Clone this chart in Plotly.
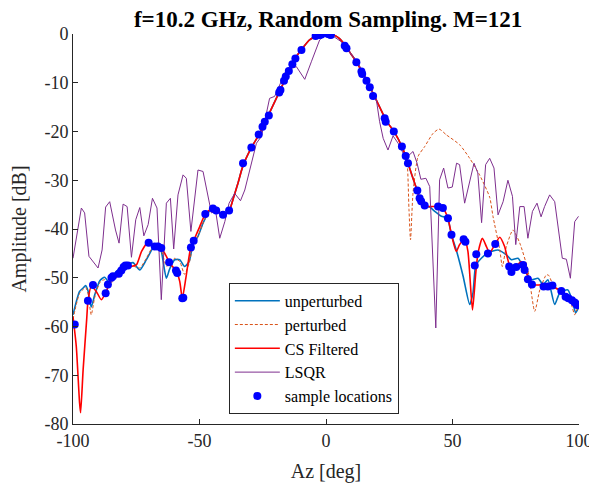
import plotly.graph_objects as go

# ---------------- data ----------------
# main-lobe shared by unperturbed / perturbed / CS
lobe_x = [-36.8, -34.8, -32.8, -29.5, -26.2, -22.9, -18.3, -15.9, -12.4, -9.7, -6.5, -3.2, 0.0,
          3.0, 5.0, 7.4, 10.0, 12.0, 14.6, 17.3, 19.2, 21.5, 23.9, 27.2, 30.0]
lobe_y = [-34.0, -30.6, -27.0, -23.3, -20.4, -16.8, -11.7, -9.0, -5.2, -3.2, -1.2, -0.3, 0.0,
          -0.2, -0.8, -2.2, -4.2, -5.7, -8.1, -10.8, -12.8, -15.3, -17.8, -20.3, -23.1]

unp_left_x = [-100, -98.7, -97.4, -96.0, -95.0, -94.1, -92.8, -91.4, -89.4, -87.5, -85.5, -84.2,
              -82.2, -80.2, -78.3, -76.3, -73.6, -71.0, -68.4, -66.4, -65.1, -63.1, -61.8, -59.8,
              -57.8, -55.9, -54.1, -52.6, -50.6, -48.6, -46.0, -44.0, -42.0, -40.7, -39.4, -38.1]
unp_left_y = [-57.6, -54.9, -52.8, -52.1, -51.6, -52.6, -56.0, -53.5, -50.6, -49.9, -51.1, -49.6,
              -48.4, -47.7, -47.3, -46.9, -48.4, -46.3, -43.9, -43.0, -44.5, -50.1, -48.2, -46.3,
              -46.3, -47.7, -46.7, -43.2, -41.5, -38.8, -36.3, -35.9, -36.7, -37.3, -36.7, -36.1]
unp_right_x = [32.4, 34.0, 35.7, 37.0, 39.0, 41.0, 43.0, 45.6, 47.5, 48.2, 49.6, 51.5, 54.2, 56.8,
               58.1, 59.2, 61.4, 64.0, 68.0, 71.3, 73.3, 75.9, 78.5, 81.2, 83.8, 85.8, 87.7,
               90.4, 92.4, 95.6, 97.6, 98.7, 100]
unp_right_y = [-26.5, -29.0, -31.6, -33.7, -35.3, -35.5, -36.4, -37.4, -37.6, -38.0, -41.2, -44.3,
               -49.7, -55.5, -53.1, -47.5, -46.0, -44.9, -44.3, -45.3, -46.3, -46.0, -48.4, -50.4,
               -50.1, -51.4, -50.4, -55.5, -53.1, -52.5, -55.2, -57.2, -55.9]

per_left_x = [-100, -98.7, -97.4, -96.0, -95.0, -94.1, -92.8, -91.4, -89.4, -87.5, -85.5, -84.2,
              -82.2, -80.2, -78.3, -76.3, -73.6, -71.0, -68.4, -66.4, -65.1, -63.1, -61.8, -59.8,
              -57.8, -55.9, -54.1, -52.6, -50.6, -48.6, -46.0, -44.0, -42.0, -40.7, -39.4, -38.1]
per_left_y = [-58.5, -55.5, -53.2, -52.4, -52.0, -53.2, -57.6, -54.0, -51.0, -50.4, -51.8, -50.4,
              -49.0, -48.0, -47.5, -47.6, -48.0, -46.0, -43.6, -43.3, -44.3, -47.6, -47.3, -46.0,
              -46.7, -49.3, -47.0, -43.5, -41.5, -38.8, -36.3, -35.9, -36.7, -37.3, -36.7, -36.1]
per_right_x = [31.8, 32.8, 33.4, 34.4, 36.4, 39.0, 42.3, 44.7, 47.6, 52.8, 56.8, 60.7, 64.7, 66.0,
               68.7, 69.7, 71.3, 73.9, 76.6, 79.8, 82.5, 84.5, 87.1, 88.0, 90.4, 94.3, 97.0, 98.3,
               99.6, 100]
per_right_y = [-25.1, -36.0, -42.2, -32.6, -25.1, -23.1, -20.4, -19.5, -20.7, -22.7, -25.5, -28.9,
               -33.5, -37.4, -44.3, -47.7, -43.6, -40.2, -42.9, -48.4, -56.9, -52.5, -49.4, -49.5,
               -52.1, -53.1, -55.5, -57.6, -55.9, -56.5]

cs_left_x = [-100, -98.7, -97.4, -97.0, -96.0, -94.6, -94.1, -92.8, -90.8, -88.8, -86.8, -84.8,
             -82.2, -79.6, -77.0, -74.9, -72.9, -70.4, -67.7, -65.1, -63.1, -61.8, -59.1, -57.8,
             -56.8, -55.4, -53.5, -51.9, -49.9, -47.9, -46.0, -44.0, -42.0, -40.7, -39.4, -38.1]
cs_left_y = [-58.0, -64.1, -75.7, -77.7, -68.9, -58.6, -54.9, -51.8, -52.8, -54.5, -52.8, -50.1,
             -49.7, -48.0, -47.7, -47.3, -44.6, -42.8, -43.6, -44.0, -45.6, -47.0, -48.7, -50.8,
             -54.2, -50.1, -43.9, -41.9, -39.5, -37.1, -36.1, -35.9, -36.7, -37.3, -36.7, -36.1]
cs_right_x = [32.4, 34.0, 35.7, 37.0, 39.0, 41.0, 44.3, 46.2, 48.2, 49.6, 51.5, 52.8, 54.8, 56.1,
              57.9, 59.2, 60.1, 61.8, 63.4, 64.7, 66.7, 68.7, 70.6, 72.6, 75.3, 77.2, 79.2, 81.8,
              87.1, 89.7, 93.0, 96.3, 99.6, 100]
cs_right_y = [-26.5, -29.0, -31.6, -33.7, -35.3, -35.4, -35.4, -35.7, -37.8, -41.2, -44.6, -43.2,
              -42.1, -44.6, -56.6, -49.0, -44.9, -41.9, -43.6, -44.9, -43.2, -41.7, -43.6, -47.3,
              -47.5, -46.7, -49.0, -51.4, -51.4, -51.8, -52.8, -54.2, -55.5, -55.7]

lsqr_x = [-100, -96.7, -95.4, -93.7, -90.1, -88.5, -87.1, -85.5, -83.2, -81.8, -80.2, -78.6, -76.9,
          -75.2, -73.6, -72.0, -70.3, -68.6, -66.8, -65.1, -63.1, -61.5, -60.2, -58.5, -56.5, -55.2,
          -53.4, -50.6, -48.6, -46.6, -45.3, -43.6, -42.0, -40.0, -38.3, -36.1, -33.8, -32.1, -30.2,
          -27.5, -25.5, -23.6, -22.3, -20.3, -15.7, -11.7, -8.4, -5.8, -2.5, 0.0, 2.1, 6.1, 10.7,
          12.6, 16.5, 19.9, 21.2, 22.6, 24.5, 26.5, 28.5, 31.5, 34.4, 36.0, 37.5, 39.5, 41.0, 43.4,
          44.9, 46.5, 48.2, 49.9, 51.6, 52.8, 54.8, 56.8, 58.5, 60.0, 61.5, 63.1, 64.7, 66.4, 68.0,
          70.0, 71.9, 73.7, 75.0, 76.6, 78.3, 79.8, 81.6, 83.4, 85.0, 86.4, 88.4, 90.4, 93.4, 95.0,
          96.6, 98.3, 99.8]
lsqr_y = [-46.0, -35.7, -36.7, -45.6, -48.0, -44.3, -35.5, -34.4, -40.2, -42.9, -34.9, -35.4, -45.8,
          -38.1, -35.6, -41.4, -39.1, -33.7, -35.7, -54.5, -34.7, -33.7, -44.1, -33.0, -28.9, -29.6,
          -40.5, -27.9, -28.2, -33.4, -36.7, -36.4, -41.9, -38.5, -34.7, -32.7, -34.2, -32.0, -27.9,
          -22.4, -21.0, -15.9, -13.2, -12.8, -7.4, -6.7, -9.3, -5.7, -1.2, 0.0, -0.2, -1.6, -4.6,
          -5.9, -9.8, -13.5, -18.0, -21.4, -23.8, -20.9, -22.4, -25.5, -24.1, -26.5, -29.8, -29.6,
          -31.3, -60.3, -29.9, -27.5, -31.6, -31.4, -26.5, -26.8, -34.7, -29.9, -26.5, -28.5, -38.7,
          -26.8, -25.5, -27.5, -37.1, -34.4, -30.0, -33.3, -43.2, -35.4, -35.4, -41.9, -36.4, -34.7,
          -37.5, -35.4, -33.0, -34.4, -46.0, -46.2, -50.1, -38.5, -37.4]

samp_x = [-99.3, -94.1, -92.1, -87.1, -86.2, -84.8, -84.2, -81.9, -80.9, -80.0, -79.3, -78.3,
          -70.1, -67.7, -66.4, -65.1, -62.0, -59.3, -58.8, -56.8, -56.4, -53.4, -52.3, -47.7,
          -44.7, -43.4, -40.7, -38.3, -32.8, -29.5, -26.6, -25.1, -24.2, -22.6, -18.5, -18.0,
          -16.6, -15.9, -14.7, -13.3, -12.1, -9.7, -4.1, -2.5, -1.8, 0.8, 1.5, 1.9, 7.4, 8.1,
          12.0, 14.0, 14.3, 16.0, 17.3, 18.6, 23.2, 23.6, 26.8, 30.0, 31.5, 32.4, 36.1, 37.0,
          37.6, 39.0, 44.3, 46.2, 48.2, 49.6, 54.4, 55.1, 58.8, 59.4, 64.0, 66.9, 72.4, 73.3,
          75.2, 77.9, 78.5, 79.8, 81.4, 86.0, 87.7, 89.5, 93.0, 94.7, 95.8, 97.2, 98.3, 99.2, 99.6]
samp_y = [-59.6, -54.7, -51.5, -53.2, -51.4, -50.0, -49.7, -49.2, -48.5, -47.8, -47.5, -47.5,
          -42.8, -43.6, -43.6, -43.9, -46.8, -48.5, -49.0, -54.2, -54.1, -43.8, -42.4, -36.9,
          -35.8, -36.2, -37.1, -36.2, -26.5, -23.3, -20.6, -19.0, -18.0, -16.7, -12.0, -11.5,
          -9.6, -8.7, -7.6, -6.2, -5.0, -3.3, -0.4, -0.2, -0.1, 0.0, -0.1, -0.2, -2.4, -2.9,
          -5.8, -7.7, -8.2, -9.6, -10.9, -12.7, -17.3, -18.0, -20.0, -23.1, -25.0, -26.5, -32.1,
          -33.7, -34.3, -35.2, -35.4, -35.7, -37.8, -41.2, -42.1, -42.6, -47.5, -45.2, -45.0,
          -43.1, -47.7, -48.8, -47.8, -47.4, -48.4, -50.3, -51.4, -51.8, -51.8, -51.6, -52.7,
          -53.9, -54.2, -54.6, -55.1, -55.6, -55.5]

x_ticks = [-100, -50, 0, 50, 100]
y_ticks = [0, -10, -20, -30, -40, -50, -60, -70, -80]

title = "f=10.2 GHz, Random Sampling. M=121"

# ---------------- figure ----------------
unp_x = unp_left_x + lobe_x + unp_right_x
unp_y = unp_left_y + lobe_y + unp_right_y
per_x = per_left_x + lobe_x + per_right_x
per_y = per_left_y + lobe_y + per_right_y
cs_x = cs_left_x + lobe_x + cs_right_x
cs_y = cs_left_y + lobe_y + cs_right_y

FONT = "Liberation Serif, Times New Roman, serif"
INK = "#262626"

fig = go.Figure()
fig.add_trace(go.Scatter(x=unp_x, y=unp_y, mode="lines", name="unperturbed",
                         line=dict(color="#0072BD", width=1.6, shape="spline", smoothing=0.6)))
fig.add_trace(go.Scatter(x=per_x, y=per_y, mode="lines", name="perturbed",
                         line=dict(color="#D95319", width=1, dash="3px,2px", shape="spline",
                                   smoothing=0.6)))
fig.add_trace(go.Scatter(x=cs_x, y=cs_y, mode="lines", name="CS Filtered",
                         line=dict(color="#FF0000", width=1.6, shape="spline", smoothing=0.6)))
fig.add_trace(go.Scatter(x=lsqr_x, y=lsqr_y, mode="lines", name="LSQR",
                         line=dict(color="#7E2F8E", width=1)))
fig.add_trace(go.Scatter(x=samp_x, y=samp_y, mode="markers", name="sample locations",
                         marker=dict(color="#0000FF", size=8)))

axis_common = dict(showgrid=False, zeroline=False, showline=True, linecolor=INK,
                   linewidth=1, ticks="inside", ticklen=5, tickcolor=INK,
                   tickfont=dict(family=FONT, size=18, color=INK), mirror=False)

fig.update_xaxes(range=[-100, 100], tickvals=x_ticks, ticktext=[str(v) for v in x_ticks],
                 title=dict(text="Az [deg]", font=dict(family=FONT, size=20, color=INK),
                            standoff=14), **axis_common)
fig.update_yaxes(range=[-80, 0], tickvals=y_ticks, ticktext=[str(v) for v in y_ticks],
                 title=dict(text="Amplitude [dB]", font=dict(family=FONT, size=20, color=INK),
                            standoff=14), **axis_common)

# page body has an 8px margin, so the figure is sized to fit inside the 597x487 window
fig.update_layout(
    width=589, height=479,
    margin=dict(l=65, r=18, t=26, b=63, autoexpand=False),
    paper_bgcolor="white", plot_bgcolor="white",
    title=dict(text="<b>" + title + "</b>", x=0.5435, xanchor="center",
               yref="container", y=0.978, yanchor="middle",
               font=dict(family=FONT, size=23, color="black")),
    showlegend=True,
    legend=dict(x=0.308, y=0.362, xanchor="left", yanchor="top",
                bgcolor="white", bordercolor=INK, borderwidth=1,
                font=dict(family=FONT, size=16, color="black"),
                itemwidth=45, tracegroupgap=0),
)

fig.write_html("out.html")
